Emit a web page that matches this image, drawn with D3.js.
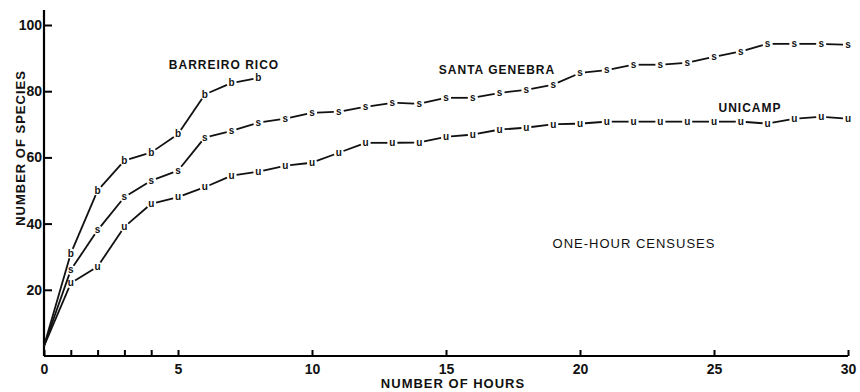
<!DOCTYPE html>
<html>
<head>
<meta charset="utf-8">
<script src="https://cdn.jsdelivr.net/npm/d3@7"></script>
<style>
  body { margin: 0; background: #fff; }
  text { font-family: "Liberation Sans", Arial, sans-serif; font-weight: bold; fill: #111; }
</style>
</head>
<body>
<svg id="chart" width="860" height="392"></svg>
<script>
// hours 0..30
const hours = d3.range(0, 31)
const barreiroRico = [3, 31, 50, 59, 61.5, 67, 79, 82.5, 84]
const santaGenebra = [3, 26, 38, 48, 53, 56, 66, 68, 70.5, 71.7, 73.5, 73.8, 75.3, 76.5, 76.2, 78,
    78, 79.5, 80.4, 82, 85.5, 86.4, 88, 88, 88.6, 90.4, 92, 94.3, 94.3, 94.3, 94]
const unicamp = [3, 22, 27, 39, 46, 48, 51, 54.5, 55.7, 57.5, 58.4, 61.4, 64.4, 64.4, 64.5, 66.2,
    66.9, 68.4, 69, 70, 70.2, 70.8, 70.8, 70.8, 70.8, 70.8, 70.8, 70.2, 71.7, 72.3, 71.7]
const xTickValues = [0, 1, 2, 3, 4, 5, 10, 15, 20, 25, 30]
const xLabelValues = [0, 5, 10, 15, 20, 25, 30]
const yTickValues = [20, 40, 60, 80, 100]

const series = [
    { name: "BARREIRO RICO", letter: "b", values: barreiroRico, lx: 224, ly: 69 },
    { name: "SANTA GENEBRA", letter: "s", values: santaGenebra, lx: 497, ly: 74 },
    { name: "UNICAMP", letter: "u", values: unicamp, lx: 750, ly: 112 }
]

const svg = d3.select("#chart")
const x = d3.scaleLinear().domain([0, 30]).range([44, 848])
const y = d3.scaleLinear().domain([0, 100]).range([356, 25])

// axes
const xAxis = svg.append("g").attr("transform", `translate(0,${y(0)})`)
    .call(d3.axisBottom(x).tickValues(xTickValues).tickSize(-6).tickFormat(d => xLabelValues.includes(d) ? d : ""))
xAxis.select(".domain").attr("stroke-width", 2.2).attr("d", `M${x(0)},0H${x(30)}`)
xAxis.selectAll(".tick line").attr("stroke-width", 2)
xAxis.selectAll(".tick text").attr("dy", "1.05em").style("font-size", "14px")

const yAxis = svg.append("g").attr("transform", `translate(${x(0)},0)`)
    .call(d3.axisLeft(y).tickValues(yTickValues).tickSize(-8).tickPadding(2))
yAxis.select(".domain").attr("stroke-width", 2.2).attr("d", `M0,${y(0)}V${y(104.5)}`)
yAxis.selectAll(".tick line").attr("stroke-width", 2)
yAxis.selectAll(".tick text").style("font-size", "14px")

svg.append("text").attr("x", 453).attr("y", 388).attr("text-anchor", "middle")
    .style("font-size", "13px").style("letter-spacing", "1px").text("NUMBER OF HOURS")
svg.append("text").attr("transform", "translate(25,148) rotate(-90)").attr("text-anchor", "middle")
    .style("font-size", "13px").style("letter-spacing", "1px").text("NUMBER OF SPECIES")

// lines with gaps round the letter markers
const gap = 5
series.forEach(s => {
    const pts = s.values.map((v, i) => [x(hours[i]), y(v)])
    const segs = d3.pairs(pts).map(([a, b], i) => {
        const dx = b[0] - a[0], dy = b[1] - a[1], len = Math.hypot(dx, dy)
        const g0 = i === 0 ? 0 : gap
        return [a[0] + dx * g0 / len, a[1] + dy * g0 / len, b[0] - dx * gap / len, b[1] - dy * gap / len]
    })
    svg.append("g").selectAll("line").data(segs).enter().append("line")
        .attr("x1", d => d[0]).attr("y1", d => d[1]).attr("x2", d => d[2]).attr("y2", d => d[3])
        .attr("stroke", "#111").attr("stroke-width", 1.8)
    svg.append("g").selectAll("text").data(pts.slice(1)).enter().append("text")
        .attr("x", d => d[0]).attr("y", d => d[1]).attr("dy", "0.32em").attr("text-anchor", "middle")
        .style("font-size", "10px").text(s.letter)
    svg.append("text").attr("x", s.lx).attr("y", s.ly).attr("text-anchor", "middle")
        .style("font-size", "12px").style("letter-spacing", "1px").text(s.name)
})

svg.append("text").attr("x", 634).attr("y", 248).attr("text-anchor", "middle")
    .style("font-size", "13px").style("font-weight", "normal").style("letter-spacing", "1px").text("ONE-HOUR CENSUSES")
</script>
</body>
</html>
